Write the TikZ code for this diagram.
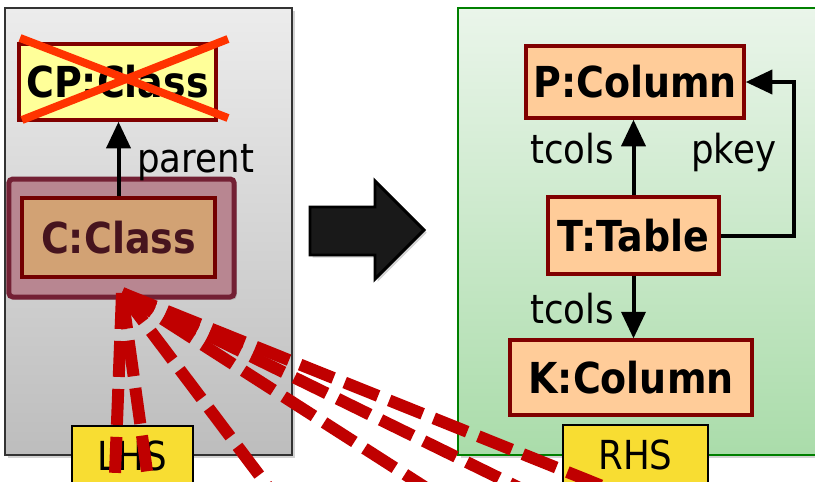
\documentclass[tikz,border=0pt]{standalone}
\usepackage{fontspec}
\usepackage{tikz}
\usetikzlibrary{arrows.meta,shadows}

\newfontfamily\tahoma{DejaVu Sans}[FakeStretch=0.89]

\definecolor{boxred}{RGB}{128,0,0}
\definecolor{peach}{RGB}{255,204,153}
\definecolor{paleyellow}{RGB}{255,255,153}
\definecolor{crossred}{RGB}{255,51,0}
\definecolor{maroon}{RGB}{115,32,52}
\definecolor{mauve}{RGB}{184,134,145}
\definecolor{tan}{RGB}{210,162,116}
\definecolor{darkplum}{RGB}{70,20,30}
\definecolor{hlyellow}{RGB}{248,221,50}
\definecolor{linkred}{RGB}{192,0,0}
\definecolor{leftgraytop}{RGB}{236,236,236}
\definecolor{leftgraybot}{RGB}{189,189,189}
\definecolor{rightgreentop}{RGB}{234,245,234}
\definecolor{rightgreenbot}{RGB}{170,220,170}

\tikzset{
  boldtext/.style={font=\tahoma\fontsize{32}{36}\selectfont\bfseries},
  plaintext/.style={font=\tahoma\fontsize{30}{34}\selectfont},
  colbox/.style={draw=boxred, line width=2.6pt, fill=peach, inner sep=0pt, boldtext},
  sidetag/.style={draw=black, line width=1.5pt, fill=hlyellow, inner sep=0pt, anchor=north, minimum height=45pt, plaintext},
  arr/.style={line width=3pt, -{Triangle[length=20pt,width=18pt]}},
  link/.style={draw=linkred, line width=9pt, dash pattern=on 27pt off 9pt},
  panelshadow/.style={drop shadow={opacity=0.35, shadow xshift=2pt, shadow yshift=-2pt}}
}

\begin{document}
\begin{tikzpicture}[x=0.75pt,y=0.75pt,yscale=-1,xscale=1]
\useasboundingbox (0,0) rectangle (815,482);
\clip (0,0) rectangle (815,482);

%Shape: Rectangle (left side)
\draw [draw=black!80, line width=1.1pt, top color=leftgraytop, bottom color=leftgraybot, panelshadow] (5,8) rectangle (292,455);
%Shape: Rectangle (right side)
\draw [draw=green!50!black, line width=1.1pt, top color=rightgreentop, bottom color=rightgreenbot, panelshadow] (458,8) rectangle (840,455);

% Text Node
\node [colbox, fill=paleyellow, minimum width=148pt, minimum height=57pt] (cp) at (117.5,82) {CP:Class};
%Straight Lines (cross)
\draw [crossred, line width=6pt] (20,38) -- (228,118);
\draw [crossred, line width=6pt] (22,120) -- (228,39);

% Text Node
\node [draw=maroon, line width=3.75pt, fill=mauve, rounded corners=3pt, minimum width=169pt, minimum height=88.5pt, panelshadow] (cc) at (121.5,238) {};
% Text Node
\node [colbox, draw=boxred!90!black, fill=tan, text=darkplum, minimum width=145pt, minimum height=59pt] (ci) at (118.5,237.5) {C:Class};

%Straight Lines
\draw [arr] (ci.north) -- (ci.north |- cp.south);
% Text Node
\node [plaintext, anchor=base west, inner sep=0pt] (parentlbl) at (137,172) {parent};

%Shape: Arrow
\draw [fill=black!90, draw=black, line width=2.2pt, panelshadow] (310,207) -- (375,207) -- (375,181) -- (424,230) -- (375,279) -- (375,255) -- (310,255) -- cycle;

% Text Node
\node [colbox, minimum width=163.5pt, minimum height=54pt] (P) at (635,82) {P:Column};
% Text Node
\node [colbox, minimum width=128pt, minimum height=58pt] (T) at (633.5,235.5) {T:Table};
% Text Node
\node [colbox, minimum width=181.5pt, minimum height=56pt] (K) at (631,377.5) {K:Column};

%Straight Lines
\draw [arr] (T.north) -- (T.north |- P.south);
\draw [arr] (T.south) -- (T.south |- K.north);
\draw [arr] (T.east) -- ++(73,0) |- (P.east);

% Text Node
\node [plaintext, anchor=base west, inner sep=0pt] (tcolsup) at (530,163) {tcols};
% Text Node
\node [plaintext, anchor=base west, inner sep=0pt] (pkeylbl) at (691,163) {pkey};
% Text Node
\node [plaintext, anchor=base west, inner sep=0pt] (tcolsdown) at (530,323) {tcols};

% Text Node
\node [sidetag, minimum width=91pt] (lhs) at (132.5,425) {LHS};
% Text Node
\node [sidetag, minimum width=109pt] (rhs) at (635.5,424) {RHS};

%Straight Lines (dashed links)
\coordinate (src) at (122,293);
\coordinate (e1) at (114,500);
\coordinate (e2) at (151,500);
\coordinate (e3) at (278,500);
\coordinate (e4) at (445,500);
\coordinate (e5) at (544,500);
\coordinate (e6) at (637,500);
\foreach \e in {e1,e2,e3,e4,e5,e6}
  \draw [link] (src) -- (\e);

\end{tikzpicture}
\end{document}
